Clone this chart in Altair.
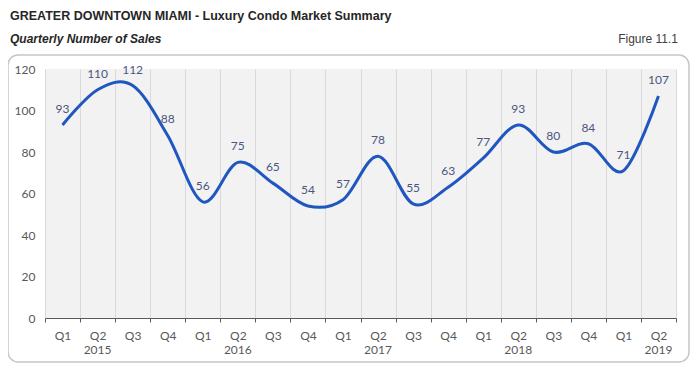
import altair as alt
import pandas as pd

quarters = ["Q1", "Q2", "Q3", "Q4"] * 4 + ["Q1", "Q2"]
years = [2015] * 4 + [2016] * 4 + [2017] * 4 + [2018] * 4 + [2019] * 2
sales = [93, 110, 112, 88, 56, 75, 65, 54, 57, 78, 55, 63, 77, 93, 80, 84, 71, 107]

keys = [f"{q} {y}" for q, y in zip(quarters, years)]
year_label = [str(y) if q == "Q2" else "" for q, y in zip(quarters, years)]
df = pd.DataFrame({"period": keys, "sales": sales, "year": year_label})

W, H = 631, 249
FONT = "Lato"

x_enc = alt.X(
    "period:N",
    sort=keys,
    title=None,
    scale=alt.Scale(type="band", paddingInner=0, paddingOuter=0),
    axis=alt.Axis(
        labelExpr="datum.value ? substring(datum.value, 0, 2) : ''",
        labelAngle=0,
        labelBaseline="top",
        labelFont=FONT,
        labelFontSize=12,
        labelColor="#595959",
        labelPadding=8,
        tickBand="extent",
        ticks=True,
        tickSize=4,
        tickColor="#595959",
        domainColor="#595959",
        domainWidth=1.2,
        grid=True,
        gridColor="#d9d9d9",
        gridWidth=1,
    ),
)

y_enc = alt.Y(
    "sales:Q",
    title=None,
    scale=alt.Scale(domain=[0, 120], nice=False),
    axis=alt.Axis(
        values=[0, 20, 40, 60, 80, 100, 120],
        grid=False,
        domain=False,
        ticks=False,
        labelFont=FONT,
        labelFontSize=12,
        labelColor="#595959",
        labelPadding=10,
    ),
)

base = alt.Chart(df).encode(x=x_enc, y=y_enc)

line = base.mark_line(interpolate="cardinal", color="#1f56c0", strokeWidth=3)

labels = base.mark_text(dy=-16, font=FONT, fontSize=12, color="#4a5680").encode(
    text="sales:Q"
)

year_text = alt.Chart(df).mark_text(
    baseline="top", font=FONT, fontSize=12, color="#595959"
).encode(
    x=alt.X("period:N", sort=keys),
    y=alt.value(H + 27),
    text="year:N",
)

note = pd.DataFrame({"t": ["x"]})

box = alt.Chart(note).mark_rect(
    fill="transparent", stroke="#c6c6c6", strokeWidth=1.5, cornerRadius=10
).encode(
    x=alt.value(-37), x2=alt.value(644), y=alt.value(-14), y2=alt.value(293)
)

title = alt.Chart(note).mark_text(
    align="left", baseline="alphabetic", font="Liberation Sans", fontWeight="bold",
    fontSize=12.5, color="#262626",
    text="GREATER DOWNTOWN MIAMI - Luxury Condo Market Summary",
).encode(x=alt.value(-35), y=alt.value(-49))

subtitle = alt.Chart(note).mark_text(
    align="left", baseline="alphabetic", font="Liberation Sans", fontWeight="bold",
    fontStyle="italic", fontSize=12, color="#262626",
    text="Quarterly Number of Sales",
).encode(x=alt.value(-35), y=alt.value(-26))

figure = alt.Chart(note).mark_text(
    align="right", baseline="alphabetic", font="Liberation Sans",
    fontSize=12, color="#404040", text="Figure 11.1",
).encode(x=alt.value(633), y=alt.value(-26))

chart = alt.layer(line, labels, year_text, box, title, subtitle, figure).properties(
    width=W, height=H,
    background="white",
    autosize=alt.AutoSizeParams(type="none"),
    padding={"left": 37, "top": 61, "right": 14, "bottom": 45},
).configure_view(fill="#f2f2f2", stroke=None)

chart.save("out.html", embed_options={"renderer": "svg", "actions": False})
